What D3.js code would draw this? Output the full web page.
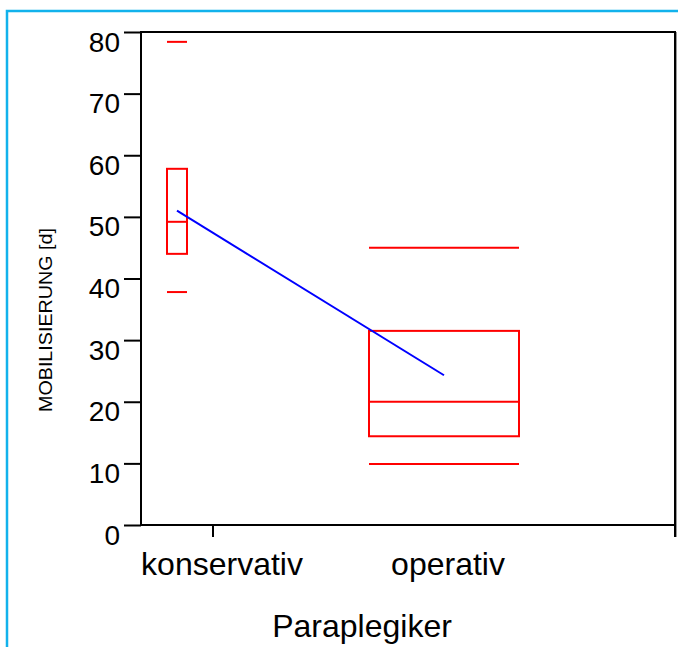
<!DOCTYPE html>
<html>
<head>
<meta charset="utf-8">
<script src="https://cdn.jsdelivr.net/npm/d3@7/dist/d3.min.js"></script>
<style>
  html, body { margin: 0; padding: 0; background: #ffffff; }
  svg { display: block; }
</style>
</head>
<body>
<script>
// Box plot data: Mobilisierung in days, by treatment group
const categories = ["konservativ", "operativ"];
const whiskerLow = [37.8, 9.9];
const q1 = [44.0, 14.4];
const median = [49.2, 20.0];
const q3 = [57.8, 31.5];
const whiskerHigh = [78.4, 45.0];
const means = [51.0, 24.3];
const yTicks = [0, 10, 20, 30, 40, 50, 60, 70, 80];
const yLabel = "MOBILISIERUNG [d]";
const xTitle = "Paraplegiker";

// Layout
const W = 678, H = 647;
const plot = { left: 141, right: 675, top: 32, bottom: 525 };
const boxCenter = d3.scaleOrdinal(categories, [177, 444]);
const boxWidth = d3.scaleOrdinal(categories, [20, 150]);
const labelCenter = d3.scaleOrdinal(categories, [222, 448]);
const font = "'Liberation Sans', Arial, Helvetica, sans-serif";
const red = "#ff0000", blue = "#0000ff";

const svg = d3.select("body").append("svg")
  .attr("width", W).attr("height", H);

// Light blue page frame (top and left edges)
svg.append("path")
  .attr("d", `M7,${H} L7,11 L${W},11`)
  .attr("fill", "none")
  .attr("stroke", "#12b2ec")
  .attr("stroke-width", 2.5);

const y = d3.scaleLinear().domain([0, 80]).range([plot.bottom, plot.top]);

// Y axis with ticks to the left
const yAxis = svg.append("g")
  .attr("transform", `translate(${plot.left},0)`)
  .call(d3.axisLeft(y).tickValues(yTicks).tickSize(17).tickPadding(4));
yAxis.select(".domain").remove();
yAxis.selectAll(".tick line").attr("stroke", "#000").attr("stroke-width", 2);
yAxis.selectAll(".tick text")
  .attr("dy", 19)
  .attr("fill", "#000")
  .style("font-family", font)
  .style("font-size", "28px");

// Plot frame
svg.append("rect")
  .attr("x", plot.left).attr("y", plot.top)
  .attr("width", plot.right - plot.left).attr("height", plot.bottom - plot.top)
  .attr("fill", "none").attr("stroke", "#000").attr("stroke-width", 2);
svg.append("line")
  .attr("x1", plot.right + 1.5).attr("x2", plot.right + 1.5)
  .attr("y1", plot.top).attr("y2", plot.bottom + 12)
  .attr("stroke", "#999").attr("stroke-width", 1);

// X ticks below the axis
[213, plot.right].forEach(x => {
  svg.append("line")
    .attr("x1", x).attr("x2", x)
    .attr("y1", plot.bottom).attr("y2", plot.bottom + 12)
    .attr("stroke", "#000").attr("stroke-width", 2);
});

// Category labels
svg.append("g").selectAll("text")
  .data(categories).join("text")
  .attr("x", d => labelCenter(d))
  .attr("y", 575)
  .attr("text-anchor", "middle")
  .style("font-family", font)
  .style("font-size", "32px")
  .attr("fill", "#000")
  .text(d => d);

// X title
svg.append("text")
  .attr("x", 362).attr("y", 637)
  .attr("text-anchor", "middle")
  .style("font-family", font)
  .style("font-size", "32px")
  .attr("fill", "#000")
  .text(xTitle);

// Y title (rotated)
svg.append("text")
  .attr("transform", "translate(52,320) rotate(-90)")
  .attr("text-anchor", "middle")
  .attr("textLength", 184)
  .attr("lengthAdjust", "spacingAndGlyphs")
  .style("font-family", font)
  .style("font-size", "19px")
  .attr("fill", "#000")
  .text(yLabel);

// Boxes
const boxes = svg.append("g")
  .attr("fill", "none").attr("stroke", red).attr("stroke-width", 2);

categories.forEach((c, i) => {
  const cx = boxCenter(c), hw = boxWidth(c) / 2;
  boxes.append("rect")
    .attr("x", cx - hw).attr("y", y(q3[i]))
    .attr("width", hw * 2).attr("height", y(q1[i]) - y(q3[i]));
  [median[i], whiskerLow[i], whiskerHigh[i]].forEach(v => {
    boxes.append("line")
      .attr("x1", cx - hw).attr("x2", cx + hw)
      .attr("y1", y(v)).attr("y2", y(v));
  });
});

// Mean line connecting groups
svg.append("path")
  .datum(categories.map((c, i) => [boxCenter(c), y(means[i])]))
  .attr("d", d3.line())
  .attr("fill", "none")
  .attr("stroke", blue)
  .attr("stroke-width", 2);
</script>
</body>
</html>
